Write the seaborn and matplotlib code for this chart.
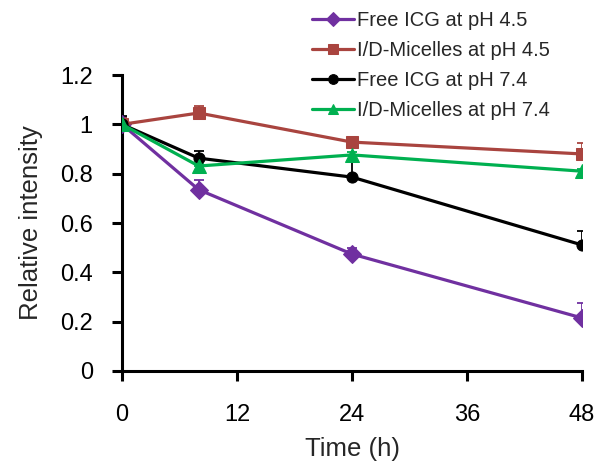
import matplotlib
matplotlib.use("Agg")
import matplotlib.pyplot as plt
import seaborn as sns
import pandas as pd
import numpy as np

time_h = [0, 8, 24, 48]
series_names = ["Free ICG at pH 4.5", "I/D-Micelles at pH 4.5", "Free ICG at pH 7.4", "I/D-Micelles at pH 7.4"]
free_45 = [1.0, 0.735, 0.474, 0.215]
mic_45 = [1.0, 1.046, 0.928, 0.880]
free_74 = [1.0, 0.863, 0.786, 0.511]
mic_74 = [1.0, 0.831, 0.876, 0.810]
err_free_45 = [0.03, 0.04, 0.025, 0.06]
err_mic_45 = [0.025, 0.027, 0.01, 0.045]
err_free_74 = [0.035, 0.03, 0.09, 0.055]
err_mic_74 = [0.02, 0.01, 0.01, 0.01]
x_ticks = [0, 12, 24, 36, 48]
y_ticks = [0, 0.2, 0.4, 0.6, 0.8, 1.0, 1.2]
y_tick_labels = ["0", "0.2", "0.4", "0.6", "0.8", "1", "1.2"]

values = [free_45, mic_45, free_74, mic_74]
errors = [err_free_45, err_mic_45, err_free_74, err_mic_74]
colors = ["#7030A0", "#A9443F", "#000000", "#00B050"]
markers = ["D", "s", "o", "^"]
msizes = [9, 8.5, 8, 10]

rows = []
for name, vals in zip(series_names, values):
    for t, v in zip(time_h, vals):
        rows.append({"Time": t, "Value": v, "Series": name})
df = pd.DataFrame(rows)

sns.set_style("white")
plt.rcParams["font.family"] = ["Liberation Sans", "DejaVu Sans"]

fig = plt.figure(figsize=(6.02, 4.68), dpi=100)
ax = fig.add_axes([0.2027, 0.2073, 0.7641, 0.6324])

# error bars (upper only), drawn first
for vals, errs, c in zip(values, errors, colors):
    ax.errorbar(time_h, vals, yerr=[np.zeros(len(errs)), errs], fmt="none",
                ecolor=c, elinewidth=1.3, capsize=3.5, capthick=1.3, zorder=2)

for name, c, m, ms in zip(series_names, colors, markers, msizes):
    sub = df[df["Series"] == name]
    sns.lineplot(data=sub, x="Time", y="Value", ax=ax, color=c, marker=m,
                 markersize=ms, markeredgecolor=c, linewidth=2.3, label=name,
                 zorder=3)

ax.set_xlim(0, 48)
ax.set_ylim(0, 1.2)
ax.set_xticks(x_ticks)
ax.set_xticklabels([str(t) for t in x_ticks])
ax.set_yticks(y_ticks)
ax.set_yticklabels(y_tick_labels)
for s in ["top", "right"]:
    ax.spines[s].set_visible(False)
for s in ["left", "bottom"]:
    ax.spines[s].set_linewidth(2.2)
    ax.spines[s].set_color("black")
ax.tick_params(axis="both", direction="out", length=7, width=2.2, colors="black",
               labelsize=17, left=True, bottom=True)
ax.tick_params(axis="y", pad=14)
ax.tick_params(axis="x", pad=17)
ax.set_xlabel("Time (h)", fontsize=18.5, labelpad=8)
ax.set_ylabel("Relative intensity", fontsize=18.5, labelpad=12)
for spine in ax.spines.values():
    spine.set_clip_on(False)

leg = ax.legend(loc="upper left", bbox_to_anchor=(312 / 602, 1 - 11 / 468),
                bbox_transform=fig.transFigure, frameon=False,
                fontsize=14.5, handlelength=2.1, handletextpad=0.15,
                labelspacing=0.55, borderaxespad=0, borderpad=0)
for h in leg.legend_handles:
    h.set_markersize(7)

fig.savefig("out.png", dpi=100)
